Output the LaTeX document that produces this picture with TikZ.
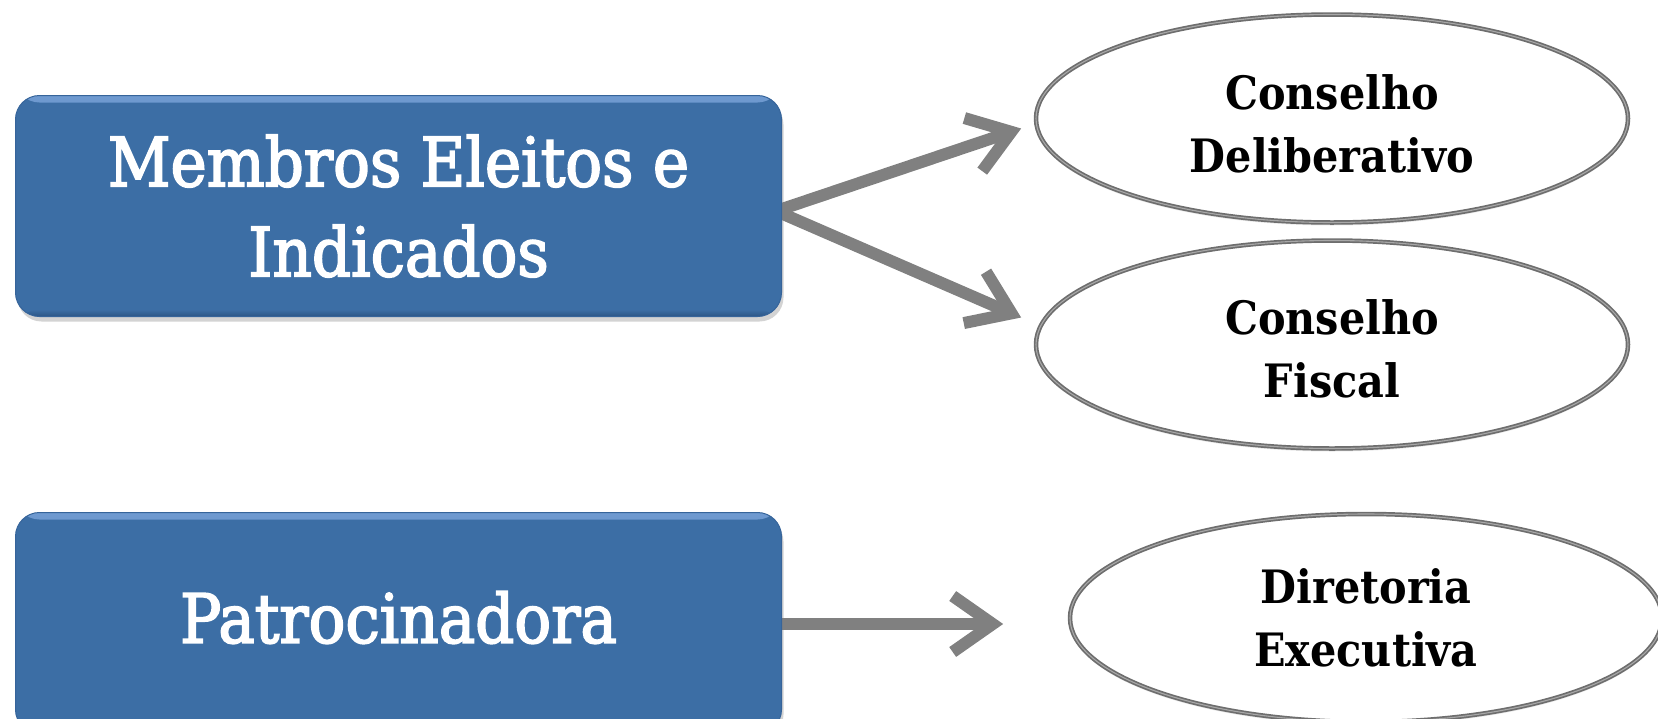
\documentclass[tikz,border=0pt]{standalone}
\usepackage{fontspec}
\setmainfont{DejaVu Serif Condensed}
\newfontfamily\boxfont[FakeBold=2.5]{DejaVu Serif Condensed}
\usetikzlibrary{shapes.geometric,arrows.meta,calc,shadows}
\definecolor{boxblue}{HTML}{3C6EA5}
\definecolor{boxedge}{HTML}{36649A}
\definecolor{boxhigh}{HTML}{6F9AD0}
\definecolor{boxlow}{HTML}{2C5585}
\definecolor{arrgray}{HTML}{808080}
\definecolor{rimdark}{HTML}{6E6E6E}
\definecolor{rimlight}{HTML}{A8A8A8}
\pgfdeclarelayer{bg}
\pgfsetlayers{bg,main}
\begin{document}
\begin{tikzpicture}[x=1pt,y=-1pt,
  bluebox/.style={rectangle, rounded corners=24pt, fill=boxblue, draw=boxedge,
    line width=1pt, minimum width=766pt, minimum height=221pt, inner sep=0pt,
    text=white, align=center, font=\boxfont\fontsize{68}{90}\selectfont,
    drop shadow={shadow xshift=2pt, shadow yshift=-5pt, opacity=0.35},
    path picture={
      \shade[top color=boxhigh, bottom color=boxblue]
        (path picture bounding box.north west) rectangle
        ([yshift=-7pt]path picture bounding box.north east);
      \shade[top color=boxblue, bottom color=boxlow]
        ([yshift=7pt]path picture bounding box.south west) rectangle
        (path picture bounding box.south east);
    }},
  oval/.style={ellipse, fill=white, draw=rimdark, double=rimlight,
    double distance=1.1pt, line width=1.7pt, minimum width=592pt,
    minimum height=208pt, inner sep=0pt, align=center,
    font=\fontsize{46}{63}\selectfont\bfseries,
    drop shadow={shadow xshift=0pt, shadow yshift=-3pt, opacity=0.18}},
  conn/.style={draw=arrgray, line width=12pt,
    -{Straight Barb[length=40pt,width=56pt]}}]
\useasboundingbox (0,0) rectangle (1658,718);
\clip (0,0) rectangle (1658,718);
\node[bluebox] (b1) at (398.5,206) {Membros Eleitos e\\Indicados};
\node[bluebox, text depth=12pt] (b2) at (398.5,623) {Patrocinadora};
\node[oval] (e1) at (1332,118.5) {\rule{0pt}{46pt}Conselho\\Deliberativo};
\node[oval] (e2) at (1332,344.5) {\rule{0pt}{44pt}Conselho\\Fiscal};
\node[oval] (e3) at (1366,618) {Diretoria\\Executiva};
\coordinate (t1) at ($(e1.west)+(-14,10)$);
\coordinate (t2) at ($(e2.west)+(-14,-27)$);
\coordinate (t3) at ($(e3.west)+(-66,0)$);
\begin{pgfonlayer}{bg}
\draw[conn] ($(b1.east)+(-6,5)$) -- (t1);
\draw[conn] ($(b1.east)+(-6,5)$) -- (t2);
\draw[conn] ($(b2.east)+(-6,1)$) -- (t3 |- {$(b2.east)+(0,1)$});
\end{pgfonlayer}
\end{tikzpicture}
\end{document}
